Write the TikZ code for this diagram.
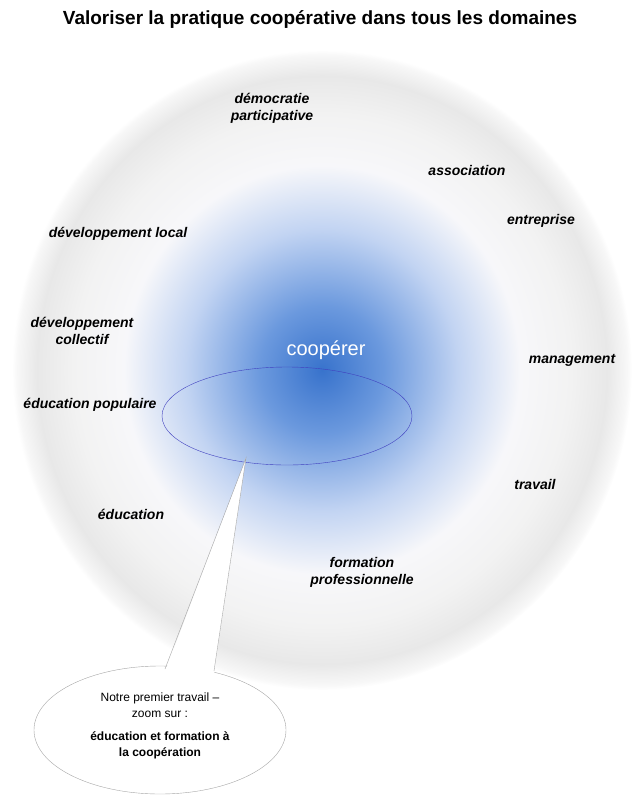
\documentclass[tikz,border=0pt]{standalone}
\usepackage{fontspec}
\setmainfont{Liberation Sans}
\usetikzlibrary{shapes}
\pgfdeclareradialshading{coopshade}{\pgfpoint{0bp}{0bp}}{%
  rgb(0bp)=(0.22,0.45,0.80);
  rgb(5bp)=(0.42,0.60,0.87);
  rgb(11bp)=(0.76,0.83,0.95);
  rgb(16bp)=(0.97,0.97,0.98);
  rgb(20bp)=(0.95,0.95,0.95);
  rgb(23bp)=(0.91,0.91,0.91);
  rgb(24.6bp)=(0.97,0.97,0.97);
  rgb(25bp)=(1,1,1);
  rgb(50bp)=(1,1,1)}
\tikzset{
  domaine/.style={font=\bfseries\itshape\fontsize{14}{17}\selectfont, align=center},
}
\begin{document}
\begin{tikzpicture}[x=1pt,y=-1pt]
\useasboundingbox (0,0) rectangle (640,801);
\node[font=\bfseries\fontsize{19}{22}\selectfont] (titre) at (320,20) {Valoriser la pratique coopérative dans tous les domaines};
% grand disque
\shade[shading=coopshade] (322,370) ellipse [x radius=310, y radius=320];
\node[text=white,font=\fontsize{20}{24}\selectfont] (coop) at (326,350) {coopérer};
% domaines
\node[domaine] (demo) at (272,108) {démocratie\\participative};
\node[domaine] (asso) at (467,170) {association};
\node[domaine] (entr) at (541,221) {entreprise};
\node[domaine] (devloc) at (118,234) {développement local};
\node[domaine] (devcol) at (82,331) {développement\\collectif};
\node[domaine] (mana) at (572,360) {management};
\node[domaine] (edpop) at (90,405) {éducation populaire};
\node[domaine] (trav) at (535,484) {travail};
\node[domaine] (educ) at (131,514) {éducation};
\node[domaine] (form) at (362,572) {formation\\professionnelle};
% zone choisie
\node[draw=blue!50!gray, thin, ellipse, minimum width=250pt, minimum height=98pt] (zone) at (287,416) {};
% bulle
\coordinate (pointe) at (246,458);
\node[draw=gray!70, fill=white, ellipse, minimum width=252pt, minimum height=128pt] (bulle) at (160,730) {};
\fill[white] (165,672) -- (pointe) -- (214,674) -- cycle;
\draw[gray!70] (165,669) -- (pointe) -- (214,671);
\node[align=center, font=\fontsize{12}{16}\selectfont] (btxt1) at (160,705) {Notre premier travail –\\zoom sur :};
\node[align=center, font=\bfseries\fontsize{12}{16}\selectfont] (btxt2) at (160,745) {éducation et formation à\\la coopération};
\end{tikzpicture}
\end{document}
